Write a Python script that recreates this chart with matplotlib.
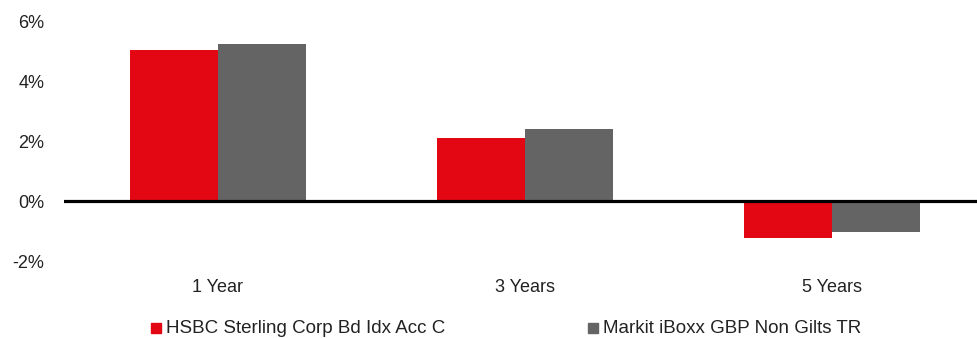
import matplotlib
matplotlib.use('Agg')
import matplotlib.pyplot as plt
import numpy as np
from matplotlib.patches import Rectangle

# ================== 数据 ==================
periods = ['1 Year', '3 Years', '5 Years']
fund_name = 'HSBC Sterling Corp Bd Idx Acc C'
index_name = 'Markit iBoxx GBP Non Gilts TR'
fund_ret = [5.05, 2.11, -1.24]
index_ret = [5.28, 2.41, -1.02]
yticks = [-2, 0, 2, 4, 6]

RED = '#E30613'
GREY = '#646464'
TXT = '#222222'

plt.rcParams['font.family'] = ['Liberation Sans', 'DejaVu Sans']

fig = plt.figure(figsize=(9.78, 3.38), dpi=100)
ax = fig.add_axes([64 / 978, 1 - 261 / 338, (986 - 64) / 978, (261 - 22) / 338])

x = np.arange(len(periods))
w = 0.286
ax.bar(x - w / 2, fund_ret, w, color=RED, label=fund_name)
ax.bar(x + w / 2, index_ret, w, color=GREY, label=index_name)
ax.axhline(0, color='black', lw=2.3, zorder=3)

ax.set_xlim(-0.5, 2.5)
ax.set_ylim(-2, 6)
ax.set_yticks(yticks)
ax.set_yticklabels([f'{v}%' for v in yticks], fontsize=13, color=TXT)
ax.set_xticks(x)
ax.set_xticklabels(periods, fontsize=13, color=TXT)
ax.tick_params(axis='both', length=0)
ax.tick_params(axis='y', pad=14)
ax.tick_params(axis='x', pad=13)
for s in ax.spines.values():
    s.set_visible(False)

# 图例（手动放置，贴近底边）
for xs, col, name in [(151, RED, fund_name), (588, GREY, index_name)]:
    fig.patches.append(Rectangle((xs / 978, 1 - 333 / 338), 10 / 978, 10 / 338,
                                 transform=fig.transFigure, color=col))
    fig.text((xs + 15) / 978, 1 - 333 / 338, name, fontsize=13.5, va='baseline',
             ha='left', color=TXT)

fig.savefig('out.png', dpi=100)
